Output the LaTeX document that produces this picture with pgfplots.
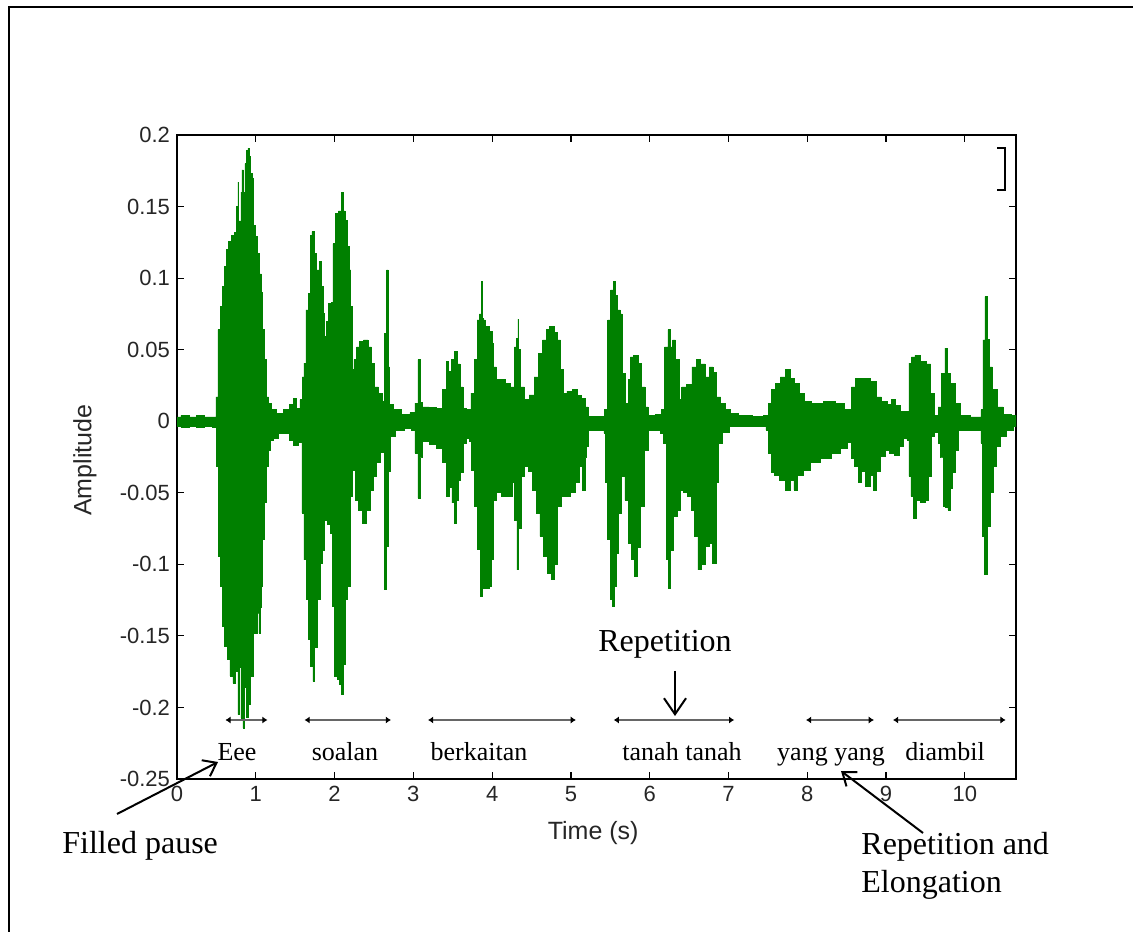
\documentclass[border=0pt]{standalone}
\usepackage{fontspec}
\setmainfont{Liberation Serif}
\newfontfamily\arialfont{Liberation Sans}
\usepackage{pgfplots}
\pgfplotsset{compat=1.18}
\usetikzlibrary{arrows.meta}
\definecolor{wave}{RGB}{0,128,0}
\definecolor{lab}{RGB}{38,38,38}
\begin{document}
\begin{tikzpicture}
\useasboundingbox (0,0) rectangle (566.5pt,465.5pt);
\begin{axis}[
  at={(88.5pt,76pt)}, anchor=south west,
  scale only axis, width=419.5pt, height=322pt,
  xmin=0, xmax=10.65, ymin=-0.25, ymax=0.2,
  xtick={0,1,2,3,4,5,6,7,8,9,10},
  xticklabels={0,1,2,3,4,5,6,7,8,9,10},
  ytick={-0.25,-0.2,-0.15,-0.1,-0.05,0,0.05,0.1,0.15,0.2},
  yticklabels={-0.25,-0.2,-0.15,-0.1,-0.05,0,0.05,0.1,0.15,0.2},
  tick align=inside, major tick length=3.5pt,
  tick style={black, line width=0.6pt},
  axis line style={black, line width=0.7pt},
  ticklabel style={font=\arialfont\fontsize{11}{13}\selectfont, text=lab},
  xlabel={Time (s)}, ylabel={Amplitude},
  label style={font=\arialfont\fontsize{12.5}{15}\selectfont, text=lab},
  xlabel style={at={(axis description cs:0.496,-0.0839)}, anchor=center},
  ylabel style={at={(axis description cs:-0.1097,0.495)}, anchor=center},
  clip=true,
]
\addplot[const plot mark mid, fill=wave, draw=wave, line width=0.3pt] coordinates {
(0,0.003) (0.1,0.004) (0.2,0.003) (0.3,0.004) (0.4,0.003) (0.49,0.003)
(0.5,0.017) (0.537,0.064) (0.567,0.080) (0.588,0.094) (0.609,0.108) (0.639,0.120)
(0.673,0.1255) (0.707,0.130) (0.745,0.132) (0.770,0.150) (0.778,0.167) (0.790,0.140)
(0.800,0.140) (0.808,0.099) (0.815,0.160) (0.833,0.1756) (0.855,0.160) (0.870,0.180)
(0.884,0.1895) (0.914,0.1907) (0.925,0.185) (0.935,0.173) (0.965,0.170) (0.977,0.137)
(1.011,0.129) (1.032,0.117) (1.062,0.103) (1.080,0.090) (1.095,0.064) (1.13,0.043)
(1.146,0.017) (1.18,0.0126) (1.22,0.008) (1.31,0.0057) (1.40,0.008) (1.45,0.012)
(1.50,0.016) (1.54,0.009) (1.58,0.015) (1.595,0.031) (1.624,0.0406) (1.646,0.0778)
(1.68,0.0895) (1.697,0.130) (1.73,0.1325) (1.75,0.117) (1.793,0.1057) (1.823,0.1115)
(1.845,0.094) (1.866,0.0755) (1.88,0.059) (1.91,0.070) (1.94,0.0825) (1.97,0.083)
(1.99,0.124) (2.027,0.145) (2.07,0.147) (2.10,0.160) (2.115,0.147) (2.145,0.1406)
(2.174,0.122) (2.195,0.1057) (2.217,0.080) (2.23,0.036) (2.26,0.043) (2.30,0.052)
(2.34,0.0557) (2.40,0.0568) (2.445,0.052) (2.49,0.0406) (2.53,0.024) (2.585,0.0196)
(2.62,0.0138) (2.65,0.0615) (2.673,0.1057) (2.685,0.060) (2.69,0.038) (2.71,0.012)
(2.77,0.008) (2.915,0.0045) (3.00,0.006) (3.04,0.0126) (3.075,0.043) (3.09,0.013)
(3.15,0.010) (3.25,0.0096) (3.34,0.009) (3.40,0.022) (3.44,0.0417) (3.46,0.035)
(3.50,0.043) (3.54,0.0487) (3.57,0.040) (3.61,0.024) (3.65,0.009) (3.70,0.008)
(3.76,0.0196) (3.80,0.043) (3.82,0.0708) (3.855,0.075) (3.865,0.0976) (3.875,0.072)
(3.89,0.0708) (3.93,0.066) (3.99,0.0626) (4.01,0.0545) (4.03,0.038) (4.08,0.029)
(4.14,0.029) (4.20,0.0266) (4.27,0.024) (4.30,0.052) (4.325,0.058) (4.33,0.0713)
(4.345,0.050) (4.38,0.024) (4.44,0.015) (4.50,0.0184) (4.565,0.031) (4.61,0.0476)
(4.67,0.0568) (4.71,0.064) (4.745,0.066) (4.775,0.066) (4.81,0.062) (4.85,0.0568)
(4.88,0.036) (4.92,0.0196) (4.98,0.021) (5.05,0.022) (5.10,0.018) (5.16,0.016)
(5.20,0.010) (5.24,0.0033) (5.41,0.0035) (5.45,0.008) (5.486,0.0708) (5.52,0.0918)
(5.55,0.0976) (5.58,0.088) (5.61,0.0778) (5.64,0.075) (5.66,0.0336) (5.71,0.0126)
(5.74,0.029) (5.77,0.045) (5.825,0.046) (5.875,0.0406) (5.92,0.024) (5.96,0.010)
(6.00,0.004) (6.13,0.0045) (6.17,0.008) (6.21,0.052) (6.25,0.064) (6.27,0.052)
(6.31,0.0568) (6.34,0.043) (6.37,0.043) (6.39,0.015) (6.425,0.024) (6.50,0.026)
(6.57,0.038) (6.615,0.043) (6.68,0.040) (6.73,0.031) (6.785,0.038) (6.82,0.034)
(6.87,0.017) (6.93,0.0126) (6.98,0.008) (7.06,0.0057) (7.20,0.004) (7.40,0.0033)
(7.48,0.004) (7.525,0.0126) (7.57,0.022) (7.63,0.0266) (7.69,0.031) (7.76,0.036)
(7.80,0.030) (7.86,0.0266) (7.93,0.0196) (7.99,0.0138) (8.12,0.0126) (8.29,0.0138)
(8.41,0.0126) (8.54,0.008) (8.58,0.024) (8.645,0.030) (8.75,0.030) (8.86,0.0277)
(8.90,0.017) (8.985,0.0138) (9.05,0.012) (9.09,0.015) (9.15,0.011) (9.22,0.0068)
(9.28,0.007) (9.30,0.0406) (9.345,0.045) (9.39,0.046) (9.47,0.0417) (9.555,0.040)
(9.58,0.0196) (9.64,0.004) (9.68,0.010) (9.725,0.0336) (9.77,0.051) (9.79,0.0336)
(9.85,0.0266) (9.915,0.0126) (9.96,0.004) (10.19,0.003) (10.22,0.008) (10.24,0.0568)
(10.27,0.087) (10.29,0.057) (10.32,0.038) (10.38,0.022) (10.44,0.010) (10.53,0.0045)
(10.65,0.004)
(10.65,-0.0037) (10.57,-0.006) (10.49,-0.0107) (10.42,-0.0177) (10.38,-0.0316) (10.34,-0.050)
(10.30,-0.0735) (10.27,-0.1073) (10.23,-0.0805) (10.22,-0.0153) (10.19,-0.006) (9.94,-0.006)
(9.90,-0.020) (9.86,-0.036) (9.83,-0.047) (9.80,-0.0619) (9.77,-0.060) (9.74,-0.0596)
(9.71,-0.025) (9.68,-0.0153) (9.64,-0.008) (9.59,-0.0107) (9.555,-0.0386) (9.52,-0.055)
(9.47,-0.057) (9.40,-0.055) (9.36,-0.0677) (9.33,-0.0526) (9.30,-0.0386) (9.28,-0.013)
(9.25,-0.012) (9.20,-0.0177) (9.14,-0.024) (9.07,-0.0223) (9.02,-0.020) (8.96,-0.0246)
(8.90,-0.035) (8.86,-0.048) (8.82,-0.038) (8.77,-0.0456) (8.71,-0.035) (8.67,-0.043)
(8.62,-0.0316) (8.58,-0.026) (8.54,-0.015) (8.475,-0.0188) (8.37,-0.0223) (8.25,-0.0258)
(8.08,-0.029) (7.99,-0.034) (7.90,-0.038) (7.86,-0.048) (7.80,-0.041) (7.76,-0.048)
(7.69,-0.041) (7.61,-0.038) (7.56,-0.036) (7.525,-0.0223) (7.49,-0.006) (7.46,-0.0037)
(7.06,-0.0037) (6.95,-0.008) (6.89,-0.0153) (6.86,-0.043) (6.82,-0.099) (6.78,-0.085)
(6.74,-0.0875) (6.67,-0.100) (6.63,-0.1038) (6.595,-0.0805) (6.55,-0.062) (6.51,-0.0526)
(6.45,-0.050) (6.40,-0.048) (6.37,-0.062) (6.34,-0.0665) (6.27,-0.090) (6.25,-0.1166)
(6.225,-0.0968) (6.19,-0.0153) (6.15,-0.0083) (6.13,-0.006) (6.00,-0.006) (5.96,-0.020)
(5.90,-0.0596) (5.86,-0.088) (5.83,-0.1085) (5.79,-0.0968) (5.75,-0.085) (5.71,-0.055)
(5.66,-0.0386) (5.62,-0.064) (5.59,-0.092) (5.56,-0.115) (5.54,-0.1294) (5.52,-0.1247)
(5.486,-0.0828) (5.45,-0.043) (5.43,-0.0083) (5.41,-0.006) (5.24,-0.006) (5.20,-0.0177)
(5.185,-0.025) (5.17,-0.048) (5.13,-0.0316) (5.08,-0.043) (5.03,-0.050) (4.95,-0.0526)
(4.90,-0.0526) (4.85,-0.0596) (4.81,-0.100) (4.775,-0.1108) (4.72,-0.106) (4.68,-0.0945)
(4.63,-0.0805) (4.585,-0.064) (4.54,-0.048) (4.48,-0.035) (4.44,-0.0316) (4.385,-0.0386)
(4.345,-0.075) (4.33,-0.1038) (4.30,-0.0689) (4.27,-0.043) (4.23,-0.0526) (4.15,-0.0526)
(4.08,-0.050) (4.03,-0.055) (4.01,-0.0968) (3.98,-0.115) (3.95,-0.1166) (3.89,-0.1166)
(3.865,-0.1224) (3.835,-0.0898) (3.80,-0.0596) (3.76,-0.034) (3.72,-0.014) (3.70,-0.012)
(3.65,-0.0153) (3.61,-0.036) (3.59,-0.041) (3.56,-0.055) (3.54,-0.071) (3.51,-0.057)
(3.47,-0.046) (3.435,-0.0526) (3.40,-0.029) (3.34,-0.0188) (3.25,-0.016) (3.15,-0.0142)
(3.09,-0.025) (3.075,-0.0537) (3.04,-0.0223) (3.00,-0.006) (2.95,-0.005) (2.83,-0.006)
(2.72,-0.0107) (2.69,-0.035) (2.67,-0.0875) (2.64,-0.1177) (2.62,-0.022) (2.55,-0.029)
(2.51,-0.0386) (2.47,-0.048) (2.43,-0.062) (2.385,-0.0712) (2.32,-0.062) (2.28,-0.055)
(2.245,-0.034) (2.215,-0.0526) (2.18,-0.1154) (2.15,-0.1247) (2.12,-0.170) (2.10,-0.191)
(2.077,-0.184) (2.05,-0.180) (2.02,-0.178) (1.985,-0.129) (1.963,-0.078) (1.93,-0.072)
(1.89,-0.0689) (1.86,-0.090) (1.836,-0.099) (1.793,-0.1247) (1.76,-0.158) (1.738,-0.1818)
(1.71,-0.171) (1.68,-0.1527) (1.654,-0.1247) (1.624,-0.0968) (1.60,-0.064) (1.57,-0.015)
(1.50,-0.0165) (1.455,-0.013) (1.40,-0.0083) (1.31,-0.0083) (1.25,-0.012) (1.20,-0.013)
(1.17,-0.020) (1.14,-0.0316) (1.117,-0.057) (1.095,-0.0828) (1.075,-0.1154) (1.06,-0.130)
(1.045,-0.148) (1.032,-0.134) (1.00,-0.148) (0.977,-0.148) (0.948,-0.178) (0.915,-0.198)
(0.897,-0.207) (0.865,-0.186) (0.85,-0.2143) (0.821,-0.2073) (0.800,-0.172) (0.787,-0.205)
(0.760,-0.175) (0.723,-0.183) (0.694,-0.178) (0.651,-0.1666) (0.622,-0.157) (0.588,-0.1434)
(0.567,-0.1154) (0.537,-0.0945) (0.51,-0.0316) (0.50,-0.004) (0.40,-0.0037) (0.30,-0.004)
(0.20,-0.0035) (0.10,-0.004) (0.00,-0.0037)
};
\end{axis}
\begin{scope}[x=0.5pt, y=-0.5pt, shift={(0pt,465.5pt)}]
  % outer frame
  \draw[line width=1pt] (9,940) -- (9,7) -- (1140,7);
  % legend remnant bracket
  \draw[line width=0.6pt] (997,148) -- (1005,148) -- (1005,190) -- (997,190);
  % word span arrows
  \tikzset{span/.style={draw=black!60, line width=0.7pt,
     {Latex[length=2.6pt,width=3.6pt,black]}-{Latex[length=2.6pt,width=3.6pt,black]}}}
  \draw[span] (225.4,720) -- (267.5,720);
  \draw[span] (304.5,720) -- (391,720);
  \draw[span] (428,720) -- (575.9,720);
  \draw[span] (613.7,720) -- (734.2,720);
  \draw[span] (806,720) -- (873.9,720);
  \draw[span] (893,720) -- (1005.6,720);
  \tikzset{word/.style={font=\fontsize{13}{15}\selectfont, inner sep=0pt, anchor=base}}
  \node[word] at (237,761) {Eee};
  \node[word] at (345,761) {soalan};
  \node[word] at (479,761) {berkaitan};
  \node[word] at (682,761) {tanah tanah};
  \node[word] at (831,761) {yang yang};
  \node[word] at (945,761) {diambil};
  % annotations
  \tikzset{ann/.style={font=\fontsize{16}{19}\selectfont, inner sep=0pt}}
  \node[ann, anchor=base] at (665,652) {Repetition};
  \draw[line width=1pt, -{Straight Barb[length=8pt,width=11pt]}] (675,671) -- (675,716);
  \node[ann, anchor=base west] at (62,853) {Filled pause};
  \draw[line width=1pt, -{Straight Barb[length=6pt,width=9pt]}] (117,814) -- (218,762);
  \node[ann, anchor=base west] at (861,854) {Repetition and};
  \node[ann, anchor=base west] at (861,892) {Elongation};
  \draw[line width=1pt, -{Straight Barb[length=6pt,width=9pt]}] (923,833) -- (841,771);
\end{scope}
\end{tikzpicture}
\end{document}
